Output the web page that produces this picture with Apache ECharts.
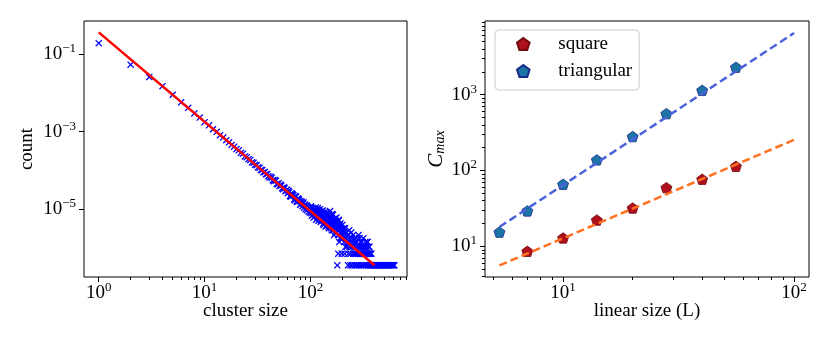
<!DOCTYPE html>
<html>
<head>
<meta charset="utf-8">
<script src="https://cdn.jsdelivr.net/npm/echarts@6.0.0/dist/echarts.min.js"></script>
<style>
html, body { margin: 0; padding: 0; background: #fff; }
#chart { width: 830px; height: 346px; }
</style>
</head>
<body>
<div id="chart"></div>
<script>
// left panel: cluster size distribution
var clusterCounts = [
  [1, 0.19], [2, 0.053], [3, 0.0255], [4, 0.0148], [5, 0.0089], [6, 5.7e-3], [7, 4.1e-3], [8, 2.95e-3],
  [9, 2.3e-3], [10, 1.75e-3], [11, 1.45e-3], [12, 1.15e-3], [13, 9.9e-4], [14, 8.1e-4], [15, 7.1e-4],
  [16, 6.0e-4], [17, 5.3e-4], [18, 4.55e-4], [19, 4.1e-4], [20, 3.55e-4], [21, 3.3e-4], [22, 2.85e-4],
  [23, 2.7e-4], [24, 2.3e-4], [25, 2.2e-4], [26, 1.95e-4], [27, 1.87e-4], [28, 1.62e-4], [29, 1.58e-4],
  [30, 1.4e-4], [31, 1.36e-4], [32, 1.2e-4], [33, 1.17e-4], [34, 1.03e-4], [35, 1.02e-4], [36, 9.0e-5],
  [37, 9.1e-5], [38, 8.0e-5], [39, 8.1e-5], [40, 7.1e-5], [41, 6.6e-5], [42, 6.9e-5], [43, 6.5e-5],
  [44, 5.6e-5], [45, 5.3e-5], [46, 5.7e-5], [47, 5.4e-5], [48, 4.5e-5], [49, 4.4e-5], [50, 4.7e-5],
  [51, 4.0e-5], [52, 4.3e-5], [53, 4.1e-5], [54, 3.5e-5], [55, 3.3e-5], [56, 3.7e-5], [57, 3.5e-5],
  [58, 2.9e-5], [59, 3.1e-5], [60, 3.2e-5], [61, 2.6e-5], [62, 3.0e-5], [63, 2.8e-5], [64, 2.2e-5],
  [65, 2.1e-5], [66, 2.6e-5], [67, 2.5e-5], [68, 2.4e-5], [69, 2.3e-5], [70, 1.8e-5], [71, 1.7e-5],
  [72, 2.2e-5], [73, 2.1e-5], [74, 1.6e-5], [75, 1.55e-5], [76, 1.9e-5], [77, 1.85e-5], [78, 1.75e-5],
  [79, 1.6e-5], [80, 1.3e-5], [81, 1.35e-5], [82, 1.6e-5], [83, 1.5e-5], [84, 1.2e-5], [85, 1.4e-5],
  [86, 1.5e-5], [87, 1.1e-5], [88, 1.3e-5], [89, 1.3e-5], [90, 1.0e-5], [91, 1.2e-5], [92, 1.25e-5],
  [93, 9.5e-6], [94, 1.15e-5], [95, 1.15e-5], [96, 8.6e-6], [97, 1.05e-5], [98, 1.1e-5], [99, 8.3e-6],
  [100, 1.008e-5], [101, 1.188e-5], [102, 7.92e-6], [103, 6.84e-6], [104, 1.08e-5], [105, 9.36e-6],
  [106, 7.2e-6], [107, 6.12e-6], [108, 9.36e-6], [109, 1.044e-5], [110, 6.48e-6], [111, 8.28e-6],
  [112, 1.116e-5], [113, 5.4e-6], [114, 7.56e-6], [115, 8.64e-6], [116, 6.12e-6], [117, 1.08e-5],
  [118, 9.72e-6], [119, 5.04e-6], [120, 5.4e-6], [121, 7.2e-6], [122, 8.64e-6], [123, 1.008e-5],
  [124, 6.84e-6], [125, 4.68e-6], [126, 5.04e-6], [127, 7.56e-6], [128, 9.0e-6], [129, 6.48e-6],
  [130, 5.76e-6], [131, 9.36e-6], [132, 4.32e-6], [133, 3.96e-6], [134, 7.92e-6], [135, 5.4e-6],
  [136, 6.12e-6], [137, 8.64e-6], [138, 4.68e-6], [139, 3.6e-6], [140, 7.2e-6], [141, 5.76e-6],
  [142, 3.96e-6], [143, 8.28e-6], [144, 6.48e-6], [145, 4.32e-6], [146, 5.04e-6], [147, 6.84e-6],
  [148, 3.6e-6], [149, 3.24e-6], [150, 7.56e-6], [151, 5.4e-6], [152, 4.32e-6], [153, 9.0e-6],
  [154, 5.76e-6], [155, 3.96e-6], [156, 3.24e-6], [157, 6.48e-6], [158, 5.04e-6], [159, 2.88e-6],
  [160, 7.56e-6], [161, 4.68e-6], [162, 3.96e-6], [163, 7.2e-6], [164, 2.88e-6], [165, 3.6e-6],
  [166, 5.4e-6], [167, 2.16e-6], [168, 3.6e-6], [169, 5.76e-6], [170, 4.68e-6], [171, 3.24e-6],
  [172, 2.52e-6], [173, 5.04e-6], [174, 4.32e-6], [175, 2.52e-6], [176, 6.12e-6], [177, 4.32e-6],
  [178, 3.24e-6], [179, 3.6e-7], [180, 3.96e-6], [181, 2.88e-6], [182, 2.16e-6], [183, 7.2e-7],
  [184, 5.04e-6], [185, 5.4e-6], [186, 2.88e-6], [187, 1.44e-6], [188, 3.6e-6], [189, 3.96e-6],
  [190, 1.8e-6], [191, 2.52e-6], [192, 4.32e-6], [193, 3.24e-6], [194, 2.52e-6], [195, 1.8e-6],
  [196, 3.24e-6], [197, 7.2e-7], [198, 2.16e-6], [199, 2.88e-6], [200, 3.96e-6],
  [202, 1.8e-6], [204, 2.52e-6], [206, 3.24e-6], [208, 1.44e-6], [210, 7.2e-7], [212, 3.24e-6],
  [214, 1.08e-6], [216, 1.8e-6], [218, 2.52e-6], [220, 1.08e-6], [222, 1.44e-6], [224, 2.16e-6],
  [226, 3.6e-7], [228, 7.2e-7], [230, 1.8e-6], [232, 2.88e-6], [234, 1.08e-6], [236, 1.44e-6],
  [238, 3.6e-7], [240, 7.2e-7], [242, 2.52e-6], [244, 1.8e-6], [246, 1.08e-6], [248, 3.6e-7],
  [250, 1.44e-6], [252, 2.16e-6], [254, 7.2e-7], [256, 1.08e-6], [258, 1.8e-6], [260, 3.6e-7],
  [262, 7.2e-7], [264, 1.44e-6], [266, 1.08e-6], [268, 7.2e-7], [270, 3.6e-7], [272, 1.8e-6],
  [274, 1.44e-6], [276, 3.6e-7], [278, 7.2e-7], [280, 1.08e-6], [282, 7.2e-7], [284, 2.16e-6],
  [286, 1.08e-6], [288, 3.6e-7], [290, 1.8e-6], [292, 7.2e-7], [294, 7.2e-7], [296, 1.44e-6],
  [298, 1.08e-6], [300, 3.6e-7], [302, 7.2e-7], [304, 1.08e-6], [306, 1.44e-6], [308, 7.2e-7],
  [310, 7.2e-7], [312, 3.6e-7], [314, 1.08e-6], [316, 1.8e-6], [318, 7.2e-7], [320, 7.2e-7],
  [322, 1.08e-6], [324, 3.6e-7], [326, 7.2e-7], [328, 1.08e-6], [330, 1.44e-6], [332, 7.2e-7],
  [334, 7.2e-7], [336, 3.6e-7], [338, 1.08e-6], [340, 7.2e-7], [342, 7.2e-7], [344, 1.44e-6],
  [346, 1.44e-6], [348, 3.6e-7], [350, 7.2e-7], [352, 7.2e-7], [354, 1.08e-6], [356, 3.6e-7],
  [358, 7.2e-7], [360, 1.08e-6], [362, 7.2e-7], [364, 3.6e-7], [368, 7.2e-7], [372, 3.6e-7],
  [376, 7.2e-7], [380, 3.6e-7], [388, 3.6e-7], [396, 3.6e-7], [404, 3.6e-7], [412, 3.6e-7],
  [420, 3.6e-7], [428, 3.6e-7], [436, 3.6e-7], [444, 3.6e-7], [452, 3.6e-7], [460, 3.6e-7],
  [470, 3.6e-7], [480, 3.6e-7], [490, 3.6e-7], [500, 3.6e-7], [512, 3.6e-7], [524, 3.6e-7],
  [536, 3.6e-7], [548, 3.6e-7], [560, 3.6e-7], [572, 3.6e-7], [584, 3.6e-7], [596, 3.6e-7],
  [608, 3.6e-7], [620, 3.6e-7]
];
var powerLawFit = [[1, 0.36], [402, 3.6e-7]];

// right panel: largest cluster vs linear size
var squareL = [7, 10, 14, 20, 28, 40, 56];
var squareCmax = [8.6, 12.9, 22.2, 32, 59.4, 76.6, 113.5];
var triangL = [5.3, 7, 10, 14, 20, 28, 40, 56];
var triangCmax = [15.4, 29.3, 65.8, 138, 280, 562, 1140, 2296];
var squareFit = [[5.3, 5.6], [100, 254]];
var triangFit = [[5.3, 18], [100, 6500]];

// ticks
var sizeTicks = [1, 10, 100];
var sizeMinorTicks = [2, 3, 4, 5, 6, 7, 8, 9, 20, 30, 40, 50, 60, 70, 80, 90, 200, 300, 400, 500, 600, 700, 800];
var countTicks = [1e-1, 1e-3, 1e-5];
var linearTicks = [10, 100];
var linearMinorTicks = [5, 6, 7, 8, 9, 20, 30, 40, 50, 60, 70, 80, 90];
var cmaxTicks = [10, 100, 1000];
var cmaxMinorTicks = [4, 5, 6, 7, 8, 9, 20, 30, 40, 50, 60, 70, 80, 90, 200, 300, 400, 500, 600, 700, 800, 900,
  2000, 3000, 4000, 5000, 6000, 7000, 8000, 9000];

var FONT = 'Liberation Serif';
var crossPath = 'path://M0,1.3L1.3,0L5,3.7L8.7,0L10,1.3L6.3,5L10,8.7L8.7,10L5,6.3L1.3,10L0,8.7L3.7,5Z';
var pentagon = 'path://M0,-1L0.951,-0.309L0.588,0.809L-0.588,0.809L-0.951,-0.309Z';

function powLabel(v) {
  var e = Math.round(Math.log10(v));
  return '{b|10}{s|' + (e < 0 ? '\u2212' + (-e) : e) + '}';
}
var powRich = {
  b: { fontFamily: FONT, fontSize: 19, color: '#000' },
  s: { fontFamily: FONT, fontSize: 13, color: '#000', padding: [0, 0, 11, 0] }
};

function majorAxis(grid, pos, min, max, ticks, margin) {
  return {
    type: 'log', gridIndex: grid, position: pos, min: min, max: max,
    axisLine: { show: false }, splitLine: { show: false },
    axisTick: { length: 5, customValues: ticks, lineStyle: { color: '#000', width: 1 } },
    axisLabel: { customValues: ticks, formatter: powLabel, rich: powRich, margin: margin }
  };
}
function minorAxis(grid, pos, min, max, ticks) {
  return {
    type: 'log', gridIndex: grid, position: pos, min: min, max: max,
    axisLine: { show: false }, splitLine: { show: false }, axisLabel: { show: false },
    axisTick: { length: 3, customValues: ticks, lineStyle: { color: '#000', width: 1 } }
  };
}
var nameStyle = { fontFamily: FONT, fontSize: 19, color: '#000' };

var xLeft = majorAxis(0, 'bottom', 0.726, 815, sizeTicks, 4);
xLeft.name = 'cluster size'; xLeft.nameLocation = 'middle'; xLeft.nameGap = 25;
xLeft.nameMoveOverlap = false; xLeft.nameTextStyle = nameStyle;
var yLeft = majorAxis(0, 'left', 1.8e-7, 0.708, countTicks, 8);
yLeft.name = 'count'; yLeft.nameLocation = 'middle'; yLeft.nameGap = 47; yLeft.nameTextStyle = nameStyle;
var xRight = majorAxis(1, 'bottom', 4.59, 116, linearTicks, 4);
xRight.name = 'linear size (L)'; xRight.nameLocation = 'middle'; xRight.nameGap = 25;
xRight.nameMoveOverlap = false; xRight.nameTextStyle = nameStyle;
var yRight = majorAxis(1, 'left', 3.94, 9354, cmaxTicks, 8);
yRight.name = '{c|C}{m|max}'; yRight.nameLocation = 'middle'; yRight.nameGap = 36;
yRight.nameTextStyle = {
  rich: {
    c: { fontFamily: FONT, fontSize: 21, fontStyle: 'italic', color: '#000' },
    m: { fontFamily: FONT, fontSize: 14, fontStyle: 'italic', color: '#000', padding: [9, 0, 0, 0] }
  }
};

var chart = echarts.init(document.getElementById('chart'));
var option = {
  animation: false,
  backgroundColor: '#fff',
  grid: [
    { left: 84, top: 21, width: 323, height: 256, show: true, borderColor: '#000', borderWidth: 1 },
    { left: 485, top: 21, width: 324, height: 256, show: true, borderColor: '#000', borderWidth: 1 }
  ],
  xAxis: [
    xLeft, minorAxis(0, 'bottom', 0.726, 815, sizeMinorTicks),
    xRight, minorAxis(1, 'bottom', 4.59, 116, linearMinorTicks)
  ],
  yAxis: [yLeft, yRight, minorAxis(1, 'left', 3.94, 9354, cmaxMinorTicks)],
  legend: {
    data: ['square', 'triangular'],
    orient: 'vertical', left: 495, top: 30,
    itemWidth: 30, itemHeight: 12, itemGap: 7,
    padding: [4, 7, 9, 21],
    borderColor: '#ccc', borderWidth: 1, borderRadius: 4,
    backgroundColor: 'rgba(255,255,255,0.8)',
    textStyle: { fontFamily: FONT, fontSize: 19, color: '#000', lineHeight: 20, padding: [0, 0, 0, 15] }
  },
  series: [
    {
      name: 'clusters', type: 'scatter', xAxisIndex: 0, yAxisIndex: 0,
      symbol: crossPath, symbolSize: 7, data: clusterCounts,
      itemStyle: { color: '#0000ff', opacity: 1 }, z: 2
    },
    {
      name: 'fit', type: 'line', xAxisIndex: 0, yAxisIndex: 0, data: powerLawFit,
      showSymbol: false, symbol: 'none', lineStyle: { color: '#ff0000', width: 2.5 }, z: 3
    },
    {
      name: 'square', type: 'scatter', xAxisIndex: 2, yAxisIndex: 1,
      symbol: pentagon, symbolSize: 11, symbolKeepAspect: true,
      data: squareL.map(function (l, i) { return [l, squareCmax[i]]; }),
      itemStyle: { color: '#b0101c', borderColor: '#6e0a10', borderWidth: 0.8, opacity: 1 }, z: 2
    },
    {
      name: 'triangular', type: 'scatter', xAxisIndex: 2, yAxisIndex: 1,
      symbol: pentagon, symbolSize: 11, symbolKeepAspect: true,
      data: triangL.map(function (l, i) { return [l, triangCmax[i]]; }),
      itemStyle: { color: '#1a74a4', borderColor: '#1a2a88', borderWidth: 0.8, opacity: 1 }, z: 2
    },
    {
      name: 'squareFit', type: 'line', xAxisIndex: 2, yAxisIndex: 1, data: squareFit,
      symbol: 'none', lineStyle: { color: '#ff7020', width: 2.5, type: [8, 4] }, z: 3
    },
    {
      name: 'triangFit', type: 'line', xAxisIndex: 2, yAxisIndex: 1, data: triangFit,
      symbol: 'none', lineStyle: { color: '#4a62dc', width: 2.5, type: [8, 4] }, z: 3
    }
  ]
};
chart.setOption(option);
</script>
</body>
</html>
